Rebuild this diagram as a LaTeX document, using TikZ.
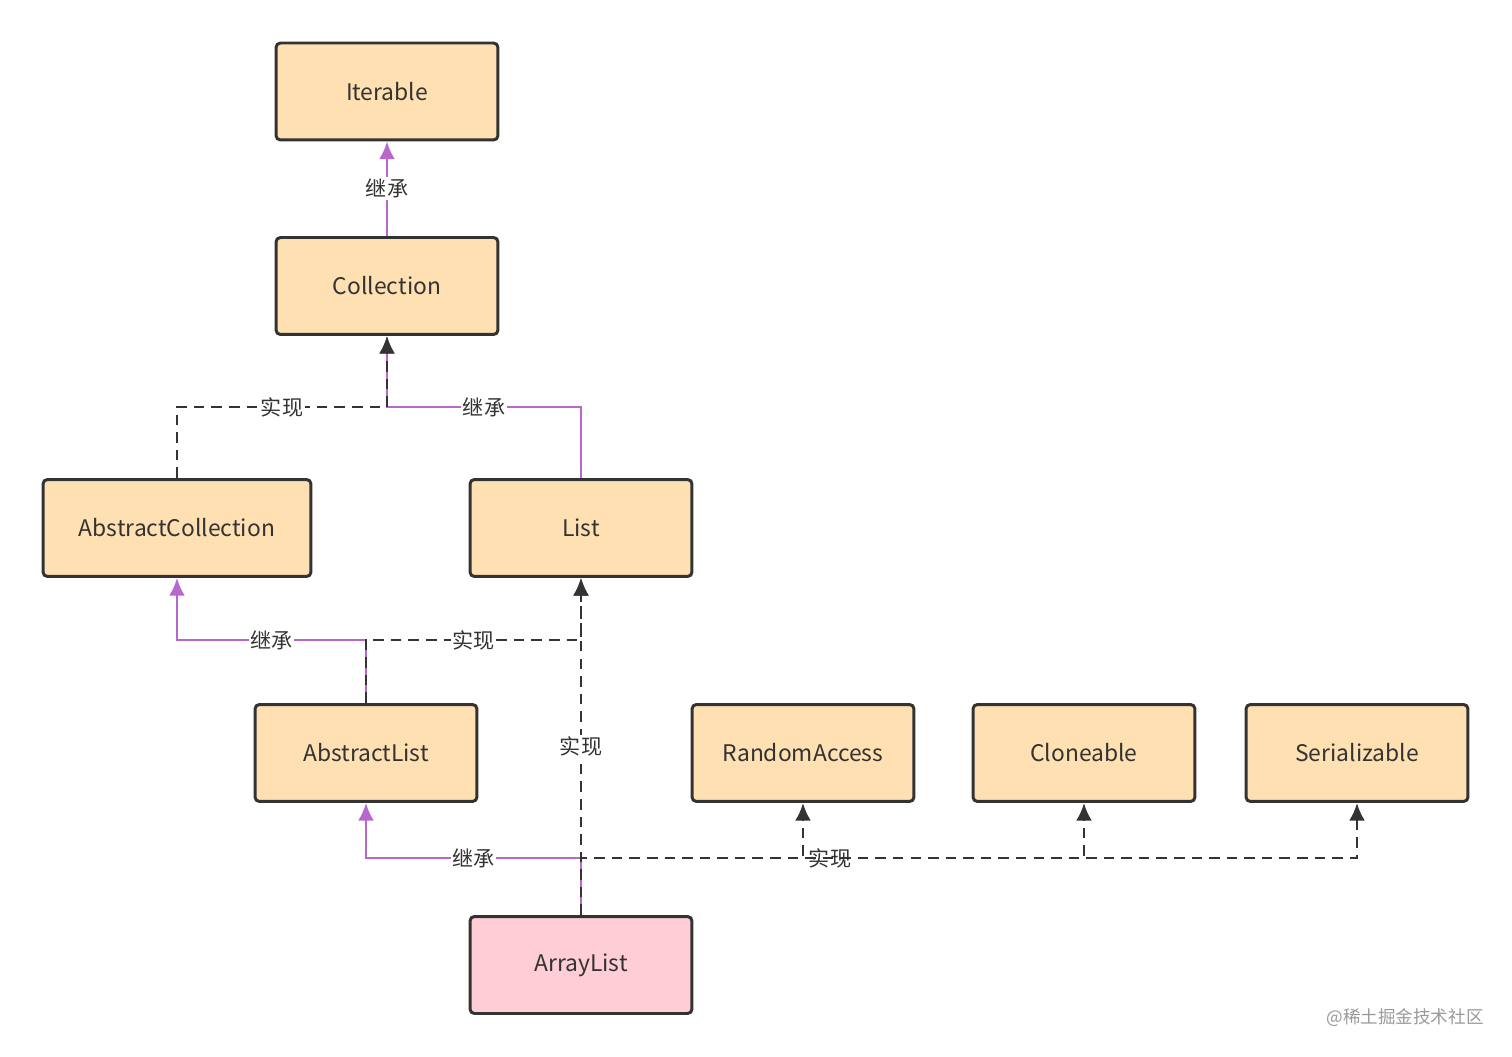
\documentclass[tikz,border=0pt]{standalone}
\usepackage{fontspec}
\setmainfont{Noto Sans CJK SC}
\usetikzlibrary{arrows.meta}
\definecolor{boxfill}{RGB}{255,224,178}
\definecolor{pinkfill}{RGB}{255,205,214}
\definecolor{edgedark}{RGB}{51,51,51}
\definecolor{inhpurple}{RGB}{184,104,204}
\tikzset{
  cls/.style={draw=edgedark, line width=1.7pt, rounded corners=2.5pt, fill=boxfill,
    minimum width=4.44cm, minimum height=1.94cm, font=\fontsize{13}{15}\selectfont, text=edgedark},
  inh/.style={draw=inhpurple, line width=1.4pt, -{Latex[length=10pt,width=9pt]}},
  impl/.style={draw=edgedark, line width=1.4pt, dash pattern=on 6pt off 4pt, -{Latex[length=10pt,width=9pt]}},
  lbl/.style={fill=white, inner sep=1pt, font=\fontsize{12}{14}\selectfont, text=edgedark}
}
\begin{document}
\begin{tikzpicture}[x=0.02cm,y=-0.02cm]
\useasboundingbox (0,0) rectangle (1512,1057);
% classes
\node[cls] (iter) at (387,91.5) {Iterable};
\node[cls] (coll) at (387,286) {Collection};
\node[cls, minimum width=5.36cm] (acoll) at (177,528) {AbstractCollection};
\node[cls] (list) at (581,528) {List};
\node[cls] (alist) at (366,753) {AbstractList};
\node[cls] (rand) at (803,753) {RandomAccess};
\node[cls] (clone) at (1084,753) {Cloneable};
\node[cls] (ser) at (1357,753) {Serializable};
\node[cls, fill=pinkfill] (arr) at (581,965) {ArrayList};

% bends
\coordinate (j1) at (387,407);
\coordinate (j2) at (366,640);
\coordinate (j3) at (581,858);

% inheritance
\draw[inh] (coll) -- node[lbl] {继承} (iter);
\draw[inh] (list.north) |- node[lbl, pos=0.75] {继承} (j1) -- (coll.south);
\draw[inh] (alist.north) -- (j2) -| node[lbl, pos=0.25] {继承} (acoll.south);
\draw[inh] (arr.north) -- (j3) -| node[lbl, pos=0.25] {继承} (alist.south);

% implementation
\draw[impl] (acoll.north) |- node[lbl, pos=0.75] {实现} (j1) -- (coll.south);
\draw[impl] (alist.north) -- (j2) -| node[lbl, pos=0.25] {实现} (list.south);
\draw[impl] (arr.north) -- node[lbl, pos=0.5] {实现} (list.south);
\draw[impl] (arr.north) -- (j3) -| (rand.south);
\draw[impl] (arr.north) -- (j3) -| (clone.south);
\draw[impl] (arr.north) -- (j3) -| (ser.south);
\node[lbl, fill=none] (implra) at (830,858) {实现};

\node[font=\fontsize{10}{12}\selectfont, text=gray!80] (mark) at (1405,1018) {@稀土掘金技术社区};
\end{tikzpicture}
\end{document}
